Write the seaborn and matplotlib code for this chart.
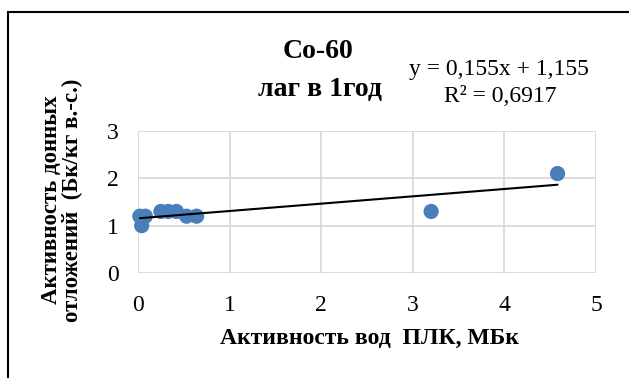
import numpy as np
import pandas as pd
import matplotlib.pyplot as plt
import matplotlib.patches as patches
import seaborn as sns

# water activity (MBq) vs sediment activity (Bq/kg dry weight)
water_activity = [0.02, 0.04, 0.08, 0.25, 0.33, 0.42, 0.53, 0.64, 3.2, 4.58]
sediment_activity = [1.2, 1.0, 1.2, 1.3, 1.3, 1.3, 1.2, 1.2, 1.3, 2.1]

# trend line reported on the chart
slope, intercept = 0.155, 1.155
r_squared = 0.6917

x_ticks = [0, 1, 2, 3, 4, 5]
y_ticks = [0, 1, 2, 3]

sns.set_style("white")
plt.rcParams['font.family'] = ['Liberation Serif', 'DejaVu Serif']
plt.rcParams['text.color'] = 'black'
plt.rcParams['xtick.color'] = 'black'
plt.rcParams['ytick.color'] = 'black'

df = pd.DataFrame({'x': water_activity, 'y': sediment_activity})

fig = plt.figure(figsize=(6.29, 3.78), dpi=100)
ax = fig.add_axes([138 / 629, 1 - 273 / 378, (596 - 138) / 629, (273 - 131) / 378])

sns.scatterplot(data=df, x='x', y='y', ax=ax, s=120, color='#4a7ebb',
                edgecolor='none', zorder=3, clip_on=False)

xs = np.array([min(water_activity), max(water_activity)])
ax.plot(xs, slope * xs + intercept, color='black', lw=1.5, zorder=4)

ax.set_xlim(0, 5)
ax.set_ylim(0, 3)
ax.set_xticks(x_ticks)
ax.set_yticks(y_ticks)
ax.grid(True, color='#d9d9d9', lw=1.3)
for s in ax.spines.values():
    s.set_visible(False)
ax.tick_params(length=0, labelsize=17)
ax.tick_params(axis='x', pad=16)
ax.tick_params(axis='y', pad=14)
ax.set_xlabel('')
ax.set_ylabel('')

fig.text(369 / 629, 1 - 338 / 378, 'Активность вод  ПЛК, МБк', ha='center', va='center',
         fontsize=17, fontweight='bold')
fig.text(62 / 629, 1 - 200 / 378, 'Активность донных\nотложений  (Бк/кг в.-с.)',
         ha='center', va='center', rotation=90, fontsize=16.5, fontweight='bold',
         linespacing=1.0)

fig.text(318 / 629, 1 - 58 / 378, 'Co-60', ha='center', va='baseline',
         fontsize=20, fontweight='bold')
fig.text(320 / 629, 1 - 96 / 378, 'лаг в 1год', ha='center', va='baseline',
         fontsize=20, fontweight='bold')

fig.text(499 / 629, 1 - 69 / 378, f'y = {slope:.3f}x + {intercept:.3f}'.replace('.', ','),
         ha='center', va='center', fontsize=17)
fig.text(500 / 629, 1 - 96 / 378, f'R² = {r_squared:.4f}'.replace('.', ','),
         ha='center', va='center', fontsize=17)

# chart frame
fig.add_artist(patches.Rectangle((8 / 629, -0.2), 1.2, 1 - 12 / 378 + 0.2, fill=False,
                                 edgecolor='black', lw=1.5, transform=fig.transFigure))

fig.savefig('out.png', dpi=100)
